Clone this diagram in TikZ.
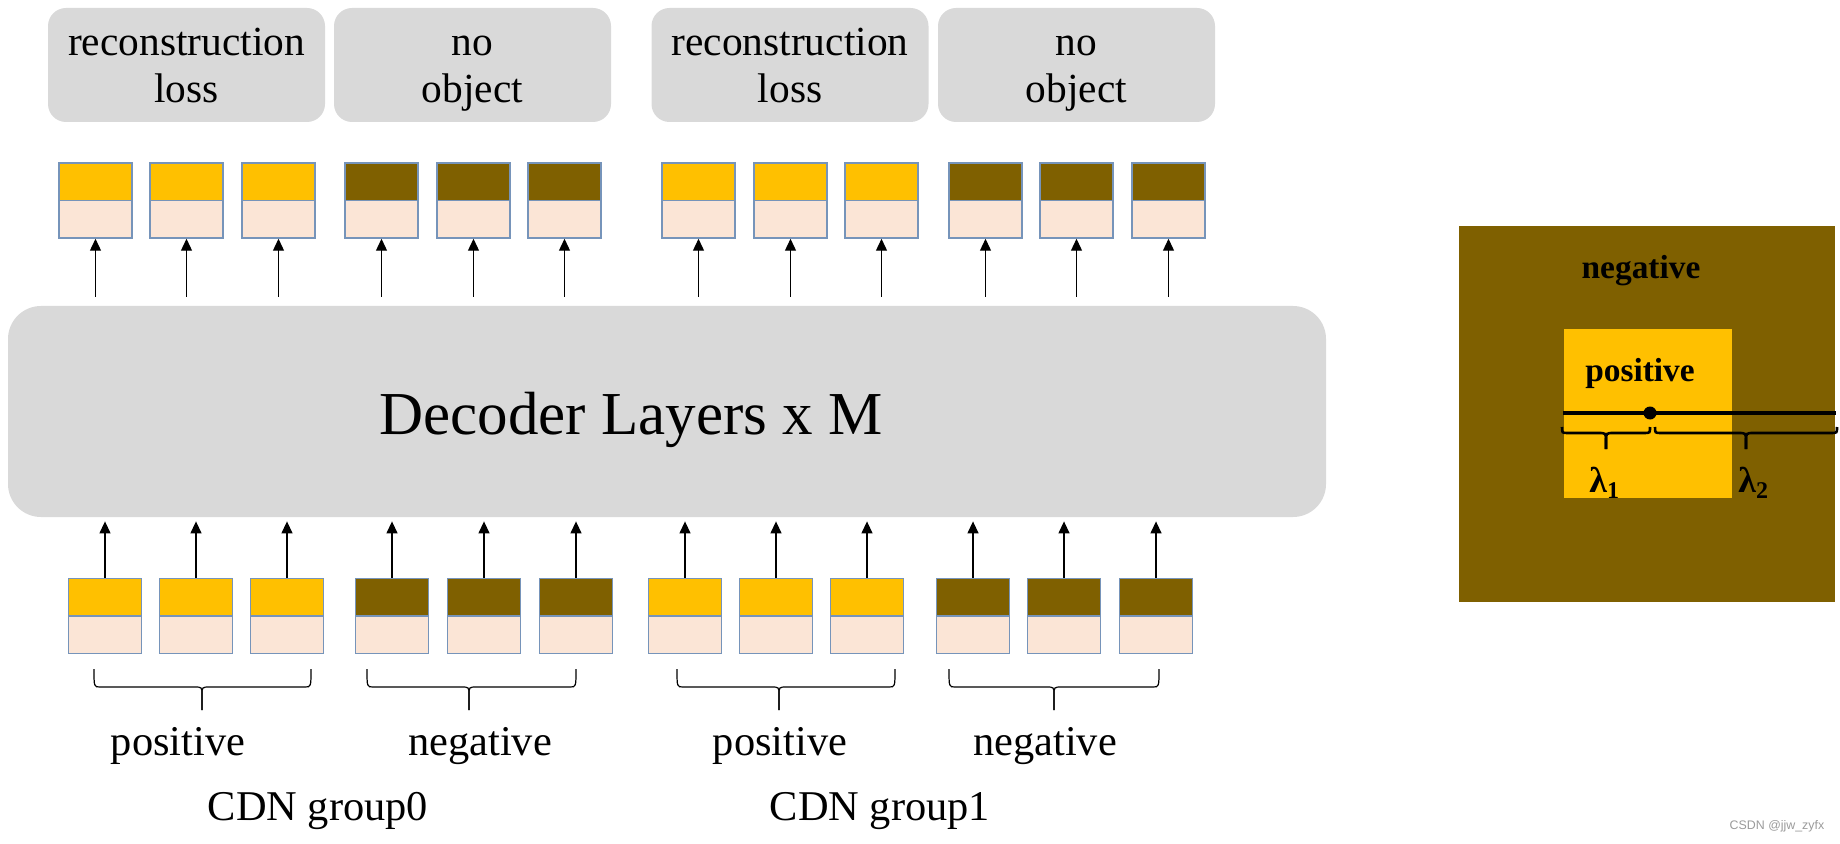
\documentclass[tikz,border=0pt]{standalone}
\usepackage{fontspec}
\setmainfont{Liberation Serif}
\newfontfamily\wmfont{Liberation Sans}
\usetikzlibrary{arrows.meta,calc}
\definecolor{yel}{HTML}{FFC000}
\definecolor{brn}{HTML}{7F6000}
\definecolor{peach}{HTML}{FBE5D6}
\definecolor{boxgray}{HTML}{D9D9D9}
\definecolor{tokline}{RGB}{118,148,186}
\definecolor{wmgray}{HTML}{9A9A9A}
% #1 style, #2 x1, #3 x2, #4 tip x, #5 end y, #6 bar y, #7 tip y
\newcommand{\drawbrace}[7]{%
  \draw[#1] (#2,#5) .. controls (#2,#6) .. (#2+6,#6) -- (#4-8,#6) .. controls (#4,#6) .. (#4,#6+8) -- (#4,#7);
  \draw[#1] (#4,#7) -- (#4,#6+8) .. controls (#4,#6) .. (#4+8,#6) -- (#3-6,#6) .. controls (#3,#6) .. (#3,#5);
}
\begin{document}
\begin{tikzpicture}[x=0.5pt,y=-0.5pt,
  lossbox/.style={fill=boxgray, rounded corners=9pt, minimum width=138.5pt, minimum height=57pt, inner sep=0pt},
  losstext/.style={align=center, inner sep=0pt, font=\fontsize{20.7}{23.5}\selectfont},
  tokenbox/.style={draw=tokline, line width=0.75pt, fill=peach, minimum width=36.5pt, minimum height=37.5pt, inner sep=0pt,
    path picture={\fill[#1] (path picture bounding box.north west) rectangle (path picture bounding box.east);
      \draw[tokline, line width=0.75pt] (path picture bounding box.west) -- (path picture bounding box.east);}},
  arr/.style={line width=0.65pt, -{Triangle[length=6pt,width=5.5pt]}},
  lbl/.style={anchor=base, inner sep=0pt, font=\fontsize{21.2}{24}\selectfont},
  boldlbl/.style={anchor=base, inner sep=0pt, font=\fontsize{16.7}{20}\selectfont\bfseries},
]
\useasboundingbox (0,0) rectangle (1840,844);

% top label boxes
\node[lossbox] (l1) at (186.5,65) {};
\node[lossbox] (l2) at (472.5,65) {};
\node[lossbox] (l3) at (790,65) {};
\node[lossbox] (l4) at (1076.5,65) {};
\node[losstext] (l1t) at (186.5,69.6) {\strut reconstruction\\loss\strut};
\node[losstext] (l2t) at (472.5,69.6) {\strut no\\object\strut};
\node[losstext] (l3t) at (790,69.6) {\strut reconstruction\\loss\strut};
\node[losstext] (l4t) at (1076.5,69.6) {\strut no\\object\strut};

% decoder
\node[fill=boxgray, rounded corners=16.5pt, minimum width=659pt, minimum height=105.5pt, inner sep=0pt] (dec) at (667,411.5) {};
\node[anchor=base, inner sep=0pt, font=\fontsize{30.5}{36}\selectfont] (dectxt) at (631,434) {Decoder Layers x M};

% top tokens
\foreach \x/\c [count=\i] in {95.5/yel,186.5/yel,278.5/yel,381.5/brn,473.5/brn,564.5/brn,698.5/yel,790.5/yel,881.5/yel,985.5/brn,1076.5/brn,1168.5/brn}{
  \node[tokenbox=\c] (t\i) at (\x,200.5) {};
  \draw[arr] ($(t\i.south |- dec.north)+(0,-9)$) -- (t\i.south);
}
% bottom tokens
\foreach \x/\c [count=\i] in {105/yel,196/yel,287/yel,392/brn,484/brn,576/brn,685/yel,776/yel,867/yel,973/brn,1064/brn,1156/brn}{
  \node[tokenbox=\c] (b\i) at (\x,616) {};
  \draw[arr] (b\i.north) -- ($(b\i.north |- dec.south)+(0,4)$);
}

% braces
\drawbrace{line width=0.6pt}{94}{311}{202}{669}{687}{710}
\drawbrace{line width=0.6pt}{367}{576}{469}{669}{687}{710}
\drawbrace{line width=0.6pt}{677}{895}{779}{669}{687}{710}
\drawbrace{line width=0.6pt}{949}{1159}{1054}{669}{687}{710}

% bottom labels
\node[lbl] (p0) at (178,755.5) {positive};
\node[lbl] (n0) at (480,755.5) {negative};
\node[lbl] (p1) at (780,755.5) {positive};
\node[lbl] (n1) at (1045,755.5) {negative};
\node[lbl] (g0) at (318,820.5) {CDN group0};
\node[lbl] (g1) at (880,820.5) {CDN group1};

% right figure
\node[fill=brn, minimum width=188pt, minimum height=188pt, inner sep=0pt] (negbox) at (1647,414) {};
\node[fill=yel, minimum width=84pt, minimum height=84.5pt, inner sep=0pt] (posbox) at (1648,413.5) {};
\node[boldlbl] (negtxt) at (1641,278.5) {negative};
\node[boldlbl] (postxt) at (1640,381.5) {positive};
\coordinate (ls) at (1563,413);
\coordinate (le) at (1836,413);
\draw[line width=1.9pt] (ls) -- (le);
\node[circle, fill=black, minimum size=6.5pt, inner sep=0pt] (dot) at (1650,413) {};
\drawbrace{line width=1.3pt}{1562}{1650}{1606}{427}{433}{449}
\drawbrace{line width=1.3pt}{1655}{1837}{1746}{427}{433}{449}
\node[anchor=base west, inner sep=0pt, font=\fontsize{18}{20}\selectfont\bfseries] (lam1) at (1589,492) {λ\raisebox{-3pt}{\fontsize{12}{14}\selectfont 1}};
\node[anchor=base west, inner sep=0pt, font=\fontsize{18}{20}\selectfont\bfseries] (lam2) at (1738,492) {λ\raisebox{-3pt}{\fontsize{12}{14}\selectfont 2}};

% watermark
\node[inner sep=0pt, text=wmgray, font=\wmfont\fontsize{6.2}{7}\selectfont] (wm) at (1777,826) {CSDN @jjw\_zyfx};
\end{tikzpicture}
\end{document}
